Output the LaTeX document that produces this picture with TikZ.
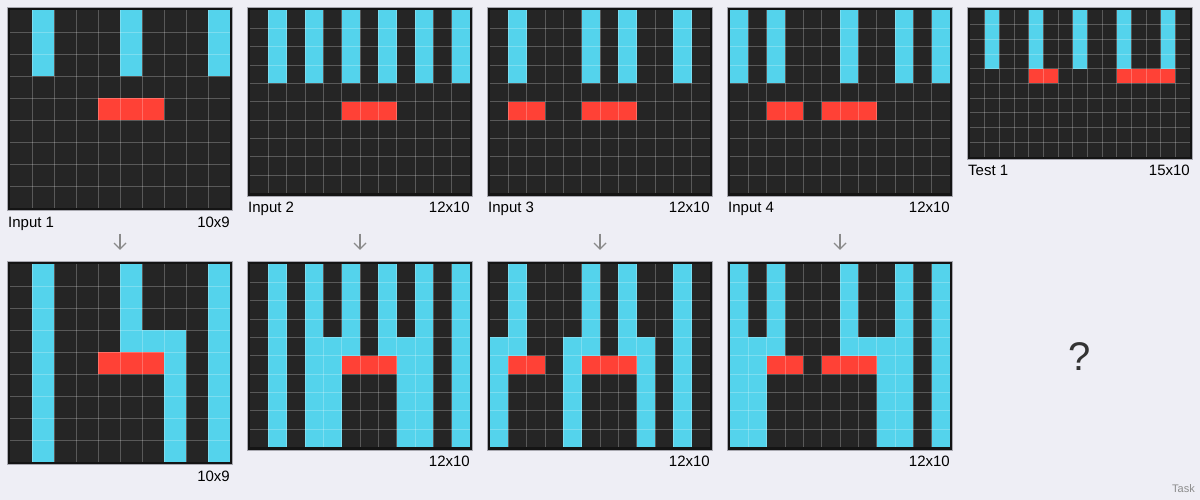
\documentclass[tikz,border=0pt]{standalone}
\usepackage{fontspec}
\setmainfont{Liberation Sans}
\usetikzlibrary{calc}
\definecolor{pagebg}{HTML}{EEEEF5}
\definecolor{arc0}{HTML}{252525}
\definecolor{arcb}{HTML}{54D3EC}
\definecolor{arcr}{HTML}{FF4136}
\definecolor{framec}{HTML}{141414}
\definecolor{frameedge}{HTML}{A8A8B0}
\definecolor{arrowc}{HTML}{8A8A8A}
\newcount\arcc
\newcount\arcrw
\def\arcrowscan#1{%
  \ifx#1\relax\else
    \fill[arc#1] ({\gx+\the\arcc*\gs},{\gy+\the\arcrw*\gs}) rectangle ++(\gs,\gs);%
    \advance\arcc by 1
    \expandafter\arcrowscan
  \fi}
% #1 x, #2 y, #3 cell, #4 cols, #5 rows, #6 name, #7 data
\newcommand\drawarc[7]{%
  \def\gx{#1}\def\gy{#2}\def\gs{#3}%
  \node[gridframe, minimum width={#4*#3pt+5.4pt}, minimum height={#5*#3pt+5.4pt}, anchor=north west] (#6) at ({#1-2.7},{#2-2.7}) {};
  \foreach \rowdata [count=\ri from 0] in {#7} {%
    \arcc=0 \arcrw=\ri\relax
    \expandafter\arcrowscan\rowdata\relax
  }%
  \foreach \i in {1,...,\numexpr#4-1\relax} {\draw[gridline] ({#1+\i*#3},{#2}) -- ++(0,{#5*#3});}
  \foreach \j in {1,...,\numexpr#5-1\relax} {\draw[gridline] ({#1},{#2+\j*#3}) -- ++({#4*#3},0);}
}
\tikzset{
  gridframe/.style={draw=frameedge, line width=0.6pt, fill=framec, inner sep=0pt, outer sep=0pt, rectangle},
  gridline/.style={draw=white, opacity=0.24, line width=0.8pt},
  lbl/.style={font=\fontsize{15}{17}\selectfont, text=black, inner sep=0pt},
  downarrow/.style={draw=arrowc, line width=1.4pt},
}
\begin{document}
\begin{tikzpicture}[x=1pt, y=-1pt]
\fill[pagebg] (0,0) rectangle (1200,500);
\useasboundingbox (0,0) rectangle (1200,500);

% ---------- inputs ----------
\drawarc{10}{10}{22}{10}{9}{in1}{
0b000b000b,0b000b000b,0b000b000b,
0000000000,0000rrr000,0000000000,
0000000000,0000000000,0000000000}
\drawarc{250}{10}{18.3333}{12}{10}{in2}{
0b0b0b0b0b0b,0b0b0b0b0b0b,0b0b0b0b0b0b,0b0b0b0b0b0b,
000000000000,00000rrr0000,000000000000,000000000000,
000000000000,000000000000}
\drawarc{490}{10}{18.3333}{12}{10}{in3}{
0b000b0b00b0,0b000b0b00b0,0b000b0b00b0,0b000b0b00b0,
000000000000,0rr00rrr0000,000000000000,000000000000,
000000000000,000000000000}
\drawarc{730}{10}{18.3333}{12}{10}{in4}{
b0b000b00b0b,b0b000b00b0b,b0b000b00b0b,b0b000b00b0b,
000000000000,00rr0rrr0000,000000000000,000000000000,
000000000000,000000000000}
\drawarc{970}{10}{14.6667}{15}{10}{test1}{
0b00b00b00b00b0,0b00b00b00b00b0,0b00b00b00b00b0,0b00b00b00b00b0,
0000rr0000rrrr0,000000000000000,000000000000000,000000000000000,
000000000000000,000000000000000}

% ---------- outputs ----------
\drawarc{10}{264}{22}{10}{9}{out1}{
0b000b000b,0b000b000b,0b000b000b,
0b000bbb0b,0b00rrrb0b,0b00000b0b,
0b00000b0b,0b00000b0b,0b00000b0b}
\drawarc{250}{264}{18.3333}{12}{10}{out2}{
0b0b0b0b0b0b,0b0b0b0b0b0b,0b0b0b0b0b0b,0b0b0b0b0b0b,
0b0bbb0bbb0b,0b0bbrrrbb0b,0b0bb000bb0b,0b0bb000bb0b,
0b0bb000bb0b,0b0bb000bb0b}
\drawarc{490}{264}{18.3333}{12}{10}{out3}{
0b000b0b00b0,0b000b0b00b0,0b000b0b00b0,0b000b0b00b0,
bb00bb0bb0b0,brr0brrrb0b0,b000b000b0b0,b000b000b0b0,
b000b000b0b0,b000b000b0b0}
\drawarc{730}{264}{18.3333}{12}{10}{out4}{
b0b000b00b0b,b0b000b00b0b,b0b000b00b0b,b0b000b00b0b,
bbb000bbbb0b,bbrr0rrrbb0b,bb000000bb0b,bb000000bb0b,
bb000000bb0b,bb000000bb0b}

% ---------- labels ----------
\node[lbl, anchor=base west] (l1) at (8,227.3) {Input 1};
\node[lbl, anchor=base east] (s1) at (230,227.3) {10x9};
\node[lbl, anchor=base west] (l2) at (248,212.6) {Input 2};
\node[lbl, anchor=base east] (s2) at (470,212.6) {12x10};
\node[lbl, anchor=base west] (l3) at (488,212.6) {Input 3};
\node[lbl, anchor=base east] (s3) at (710,212.6) {12x10};
\node[lbl, anchor=base west] (l4) at (728,212.6) {Input 4};
\node[lbl, anchor=base east] (s4) at (950,212.6) {12x10};
\node[lbl, anchor=base west] (lt) at (968,175.9) {Test 1};
\node[lbl, anchor=base east] (st) at (1190,175.9) {15x10};
\node[lbl, anchor=base east] (so1) at (230,481.3) {10x9};
\node[lbl, anchor=base east] (so2) at (470,466.6) {12x10};
\node[lbl, anchor=base east] (so3) at (710,466.6) {12x10};
\node[lbl, anchor=base east] (so4) at (950,466.6) {12x10};

% ---------- arrows ----------
\foreach \k/\cx in {1/120,2/360,3/600,4/840} {
  \coordinate (a\k s) at (\cx,233.5);
  \coordinate (a\k e) at (\cx,249);
  \draw[downarrow] (a\k s) -- (a\k e);
  \draw[downarrow, line join=miter] ($(a\k e)+(-6,-6)$) -- (a\k e) -- ($(a\k e)+(6,-6)$);
}

% ---------- unknown output ----------
\node[font=\fontsize{40}{44}\selectfont, text=black!80, inner sep=0pt, anchor=base] (q) at (1080,370) {?};
\node[font=\fontsize{11}{13}\selectfont, text=black!45, inner sep=0pt, anchor=base east] (task) at (1195,492) {Task};
\end{tikzpicture}
\end{document}
